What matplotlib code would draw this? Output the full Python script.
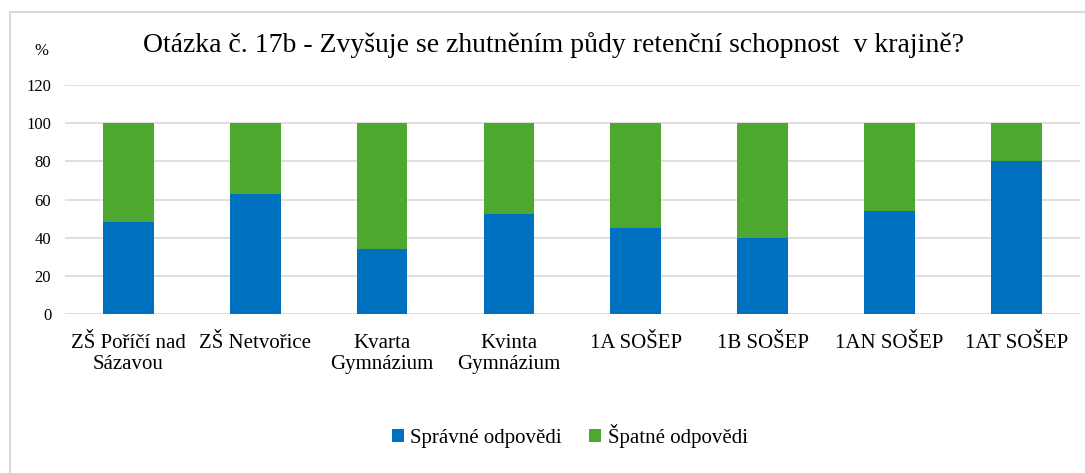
import numpy as np
import matplotlib.pyplot as plt
from matplotlib.patches import Rectangle

categories = ['ZŠ Poříčí nad\nSázavou', 'ZŠ Netvořice', 'Kvarta\nGymnázium', 'Kvinta\nGymnázium',
              '1A SOŠEP', '1B SOŠEP', '1AN SOŠEP', '1AT SOŠEP']
spravne = [48, 63, 34, 52.5, 45, 40, 54, 80]
spatne = [100 - v for v in spravne]
yticks = [0, 20, 40, 60, 80, 100, 120]

plt.rcParams['font.family'] = ['Liberation Serif', 'DejaVu Serif']

fig = plt.figure(figsize=(10.85, 4.73), dpi=100)
ax = fig.add_axes([0.06, 0.336, 0.935, 0.484])

x = np.arange(len(categories))
ax.bar(x, spravne, width=0.4, color='#0070C0', label='Správné odpovědi', zorder=3)
ax.bar(x, spatne, width=0.4, bottom=spravne, color='#4EA72E', label='Špatné odpovědi', zorder=3)

ax.set_xlim(-0.5, len(categories) - 0.5)
ax.set_ylim(0, 120)
ax.set_yticks(yticks)
ax.set_xticks(x)
ax.set_xticklabels(categories, fontsize=15, linespacing=1.15)
ax.tick_params(axis='y', labelsize=12, length=0, pad=10)
ax.tick_params(axis='x', length=0, pad=14)
ax.grid(axis='y', color='#d9d9d9', linewidth=1.2, zorder=0)
for s in ax.spines.values():
    s.set_visible(False)

fig.text(0.51, 0.905, 'Otázka č. 17b - Zvyšuje se zhutněním půdy retenční schopnost  v krajině?',
         ha='center', va='center', fontsize=20)
fig.text(0.038, 0.893, '%', ha='center', va='center', fontsize=12)

fig.legend(loc='center', bbox_to_anchor=(0.525, 0.078), ncol=2, frameon=False,
           fontsize=15, handlelength=0.6, handleheight=0.6, handletextpad=0.3, columnspacing=1.3)

fig.patches.append(Rectangle((0.009, -0.01), 1.0, 0.985, transform=fig.transFigure,
                             fill=False, edgecolor='#d9d9d9', linewidth=1.5))

fig.savefig('out.png', dpi=100)
